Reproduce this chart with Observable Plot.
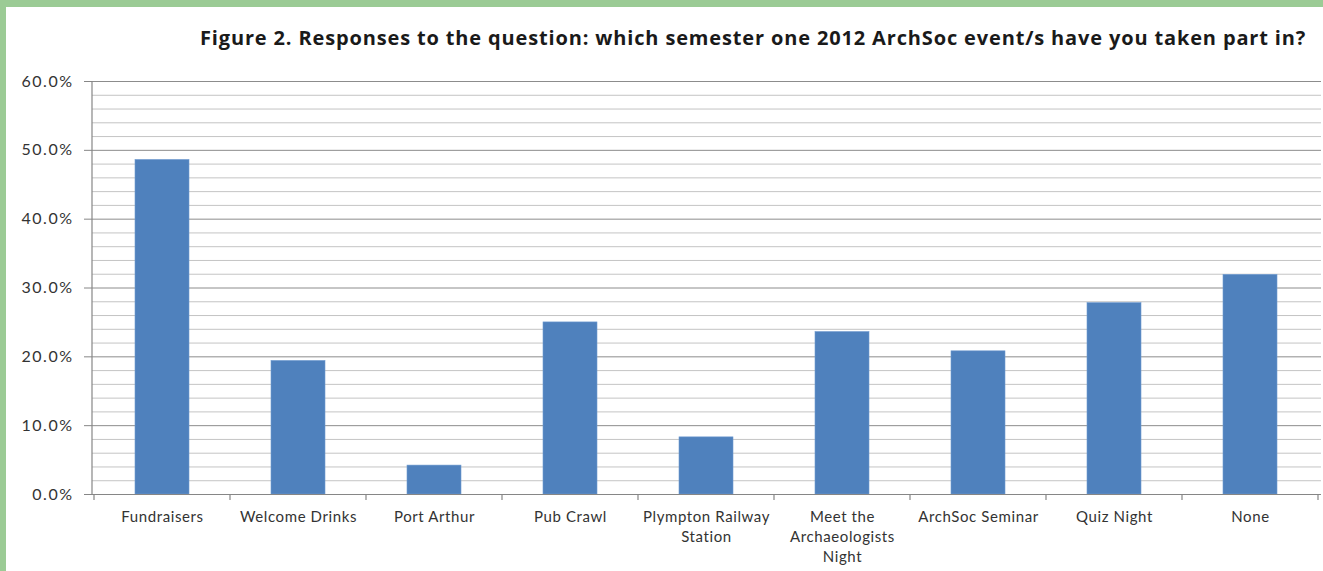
<!DOCTYPE html>
<html>
<head>
<meta charset="utf-8">
<script src="https://cdn.jsdelivr.net/npm/d3@7"></script>
<script src="https://cdn.jsdelivr.net/npm/@observablehq/plot@0.6"></script>
<style>
  html, body { margin: 0; padding: 0; }
  body { width: 1323px; height: 571px; background: #9bcb95; overflow: hidden; position: relative; }
  #panel { position: absolute; left: 6px; top: 7px; width: 1317px; height: 564px; background: #fff; }
  #title { height: 53px; box-sizing: border-box; padding-left: 194px; padding-top: 18px;
           font-family: "Open Sans", Lato, sans-serif; font-weight: bold; font-size: 20px; letter-spacing: 0.85px; color: #1a1a1a; white-space: nowrap; line-height: 26px; }
  #chart svg { display: block; }
  #chart svg text { letter-spacing: 0.6px; }
  #chart svg g[aria-label="y-axis tick label"] text { letter-spacing: 1.5px; }
</style>
</head>
<body>
<div id="panel">
  <div id="title">Figure 2. Responses to the question: which semester one 2012 ArchSoc event/s have you taken part in?</div>
  <div id="chart"></div>
</div>
<script>
const categories = ["Fundraisers", "Welcome Drinks", "Port Arthur", "Pub Crawl", "Plympton Railway Station", "Meet the Archaeologists Night", "ArchSoc Seminar", "Quiz Night", "None"];
const tickLabels = ["Fundraisers", "Welcome Drinks", "Port Arthur", "Pub Crawl", "Plympton Railway\nStation", "Meet the\nArchaeologists\nNight", "ArchSoc Seminar", "Quiz Night", "None"];
const values = [0.486, 0.194, 0.042, 0.250, 0.083, 0.236, 0.208, 0.278, 0.319];
const yMajor = [0, 0.1, 0.2, 0.3, 0.4, 0.5, 0.6];
const yMinor = [0.02, 0.04, 0.06, 0.08, 0.12, 0.14, 0.16, 0.18, 0.22, 0.24, 0.26, 0.28, 0.32, 0.34, 0.36, 0.38, 0.42, 0.44, 0.46, 0.48, 0.52, 0.54, 0.56, 0.58];

const data = categories.map((c, i) => ({category: c, value: values[i]}));
const axisColor = "#868686";

const plot = Plot.plot({
  width: 1317,
  height: 511,
  marginLeft: 86,
  marginRight: 2,
  marginTop: 21,
  marginBottom: 77,
  style: {fontFamily: "Lato, 'Open Sans', sans-serif", fontSize: "14px", color: "#333", background: "white"},
  x: {domain: categories, paddingInner: 0.6, paddingOuter: 0.3, axis: null, label: null},
  y: {domain: [0, 0.6], axis: null, label: null},
  marks: [
    Plot.ruleY(yMinor, {stroke: "#c4c4c4", strokeWidth: 1}),
    Plot.ruleY(yMajor.slice(1), {stroke: "#8c8c8c", strokeWidth: 1}),
    Plot.barY(data, {x: "category", y: "value", fill: "#4f81bd", stroke: "#6f9bd0", strokeWidth: 0.6}),
    Plot.ruleY([0], {stroke: axisColor, strokeWidth: 1.2}),
    Plot.axisY({ticks: yMajor, tickSize: 8, tickPadding: 11, tickFormat: d3.format(".1%"), fontSize: 16, stroke: axisColor, fill: "#333", label: null}),
    Plot.axisX({tickSize: 0, tickPadding: 13, tickFormat: d => tickLabels[categories.indexOf(d)], lineHeight: 1.35, fontSize: 15, fill: "#333", label: null})
  ]
});

// Left axis line and category boundary ticks, placed from the plot's own scales
const xs = plot.scale("x");
const ys = plot.scale("y");
const svg = d3.select(plot);
const y0 = ys.apply(0), yTop = ys.apply(0.6);
const x0 = xs.range[0];
svg.append("line").attr("x1", x0).attr("x2", x0).attr("y1", yTop).attr("y2", y0)
  .attr("stroke", axisColor).attr("stroke-width", 1.2);
const bounds = categories.map(c => xs.apply(c) + xs.bandwidth / 2 - xs.step / 2);
bounds.push(bounds[bounds.length - 1] + xs.step);
svg.append("g").selectAll("line").data(bounds).join("line")
  .attr("x1", d => d).attr("x2", d => d).attr("y1", y0).attr("y2", y0 + 6)
  .attr("stroke", axisColor).attr("stroke-width", 1.2);

document.getElementById("chart").appendChild(plot);
</script>
</body>
</html>
